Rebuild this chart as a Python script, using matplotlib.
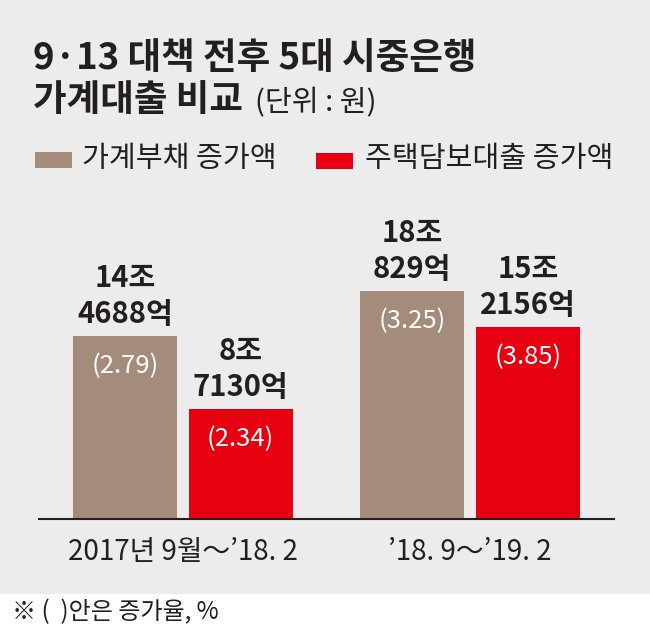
import matplotlib
matplotlib.use("Agg")
import matplotlib.pyplot as plt
from matplotlib.patches import Rectangle

# ---- data ----
periods = ["2017년 9월～’18. 2", "’18. 9～’19. 2"]
series_names = ["가계부채 증가액", "주택담보대출 증가액"]
household_debt = [14.4688, 18.0829]        # 조 원
mortgage = [8.7130, 15.2156]               # 조 원
household_labels = ["14조\n4688억", "18조\n829억"]
mortgage_labels = ["8조\n7130억", "15조\n2156억"]
household_rates = ["(2.79)", "(3.25)"]
mortgage_rates = ["(2.34)", "(3.85)"]

title_line1 = "9·13 대책 전후 5대 시중은행"
title_line2 = "가계대출 비교"
unit_text = "(단위 : 원)"
footnote = "※ (  )안은 증가율, %"

# ---- style ----
FONT = ["Noto Sans CJK KR", "DejaVu Sans"]
plt.rcParams["font.family"] = FONT
BG = "#ececec"
BROWN = "#a48b7a"
RED = "#e60012"
INK = "#231f20"

W, H = 650, 629
fig = plt.figure(figsize=(W / 100, H / 100), dpi=100, facecolor=BG)

def fx(px):
    return px / W

def fy(py):
    return 1 - py / H

# white footer band
fig.patches.append(Rectangle((0, 0), 1, fy(594), transform=fig.transFigure,
                             facecolor="white", edgecolor="none", zorder=0))

# title
fig.text(fx(33), fy(58), title_line1, fontsize=26.3, fontweight="bold",
         color=INK, va="center", ha="left")
t2 = fig.text(fx(33), fy(101), title_line2, fontsize=26.3, fontweight="bold",
              color=INK, va="center", ha="left")
fig.canvas.draw()
bb = t2.get_window_extent()
fig.text(bb.x1 / W + fx(12), fy(103), unit_text, fontsize=21,
         color=INK, va="center", ha="left")

# legend
fig.patches.append(Rectangle((fx(35), fy(168)), fx(37), 16 / H, transform=fig.transFigure,
                             facecolor=BROWN, edgecolor="none"))
fig.text(fx(82), fy(159), series_names[0], fontsize=21, color=INK, va="center", ha="left")
fig.patches.append(Rectangle((fx(316), fy(169)), fx(37), 16 / H, transform=fig.transFigure,
                             facecolor=RED, edgecolor="none"))
fig.text(fx(365), fy(159), series_names[1], fontsize=21, color=INK, va="center", ha="left")

# axes
ax_left, ax_right, ax_bottom, ax_top = 39, 614, 519, 200
ax = fig.add_axes([fx(ax_left), fy(ax_bottom), fx(ax_right - ax_left), (ax_bottom - ax_top) / H])
ax.set_facecolor("none")
px_per_unit = 12.62
ax.set_ylim(0, (ax_bottom - ax_top) / px_per_unit)
ax.set_xlim(-0.5, 1.5)

x = [0, 1]
bw = 104 / 288
off = 58 / 288
b1 = ax.bar([xi - off for xi in x], household_debt, width=bw, color=BROWN, zorder=2)
b2 = ax.bar([xi + off for xi in x], mortgage, width=bw, color=RED, zorder=2)

for bars, labels, rates in [(b1, household_labels, household_rates),
                            (b2, mortgage_labels, mortgage_rates)]:
    for rect, lab, rate in zip(bars, labels, rates):
        cx = rect.get_x() + rect.get_width() / 2
        top = rect.get_height()
        ax.annotate(lab, (cx, top), xytext=(0, 7), textcoords="offset pixels",
                    ha="center", va="bottom", fontsize=21, fontweight="bold",
                    color=INK, linespacing=1.25)
        ax.annotate(rate, (cx, top), xytext=(0, -30), textcoords="offset pixels",
                    ha="center", va="center", fontsize=18.5, color="white")

for s in ["top", "left", "right"]:
    ax.spines[s].set_visible(False)
ax.spines["bottom"].set_linewidth(1.5)
ax.spines["bottom"].set_color(INK)
ax.set_yticks([])
ax.set_xticks(x)
ax.set_xticklabels(periods, fontsize=20, color=INK)
ax.tick_params(axis="x", length=0, pad=13)

fig.text(fx(12), fy(612), footnote, fontsize=17.3, color=INK, va="center", ha="left")

fig.savefig("out.png", dpi=100, facecolor=BG)
